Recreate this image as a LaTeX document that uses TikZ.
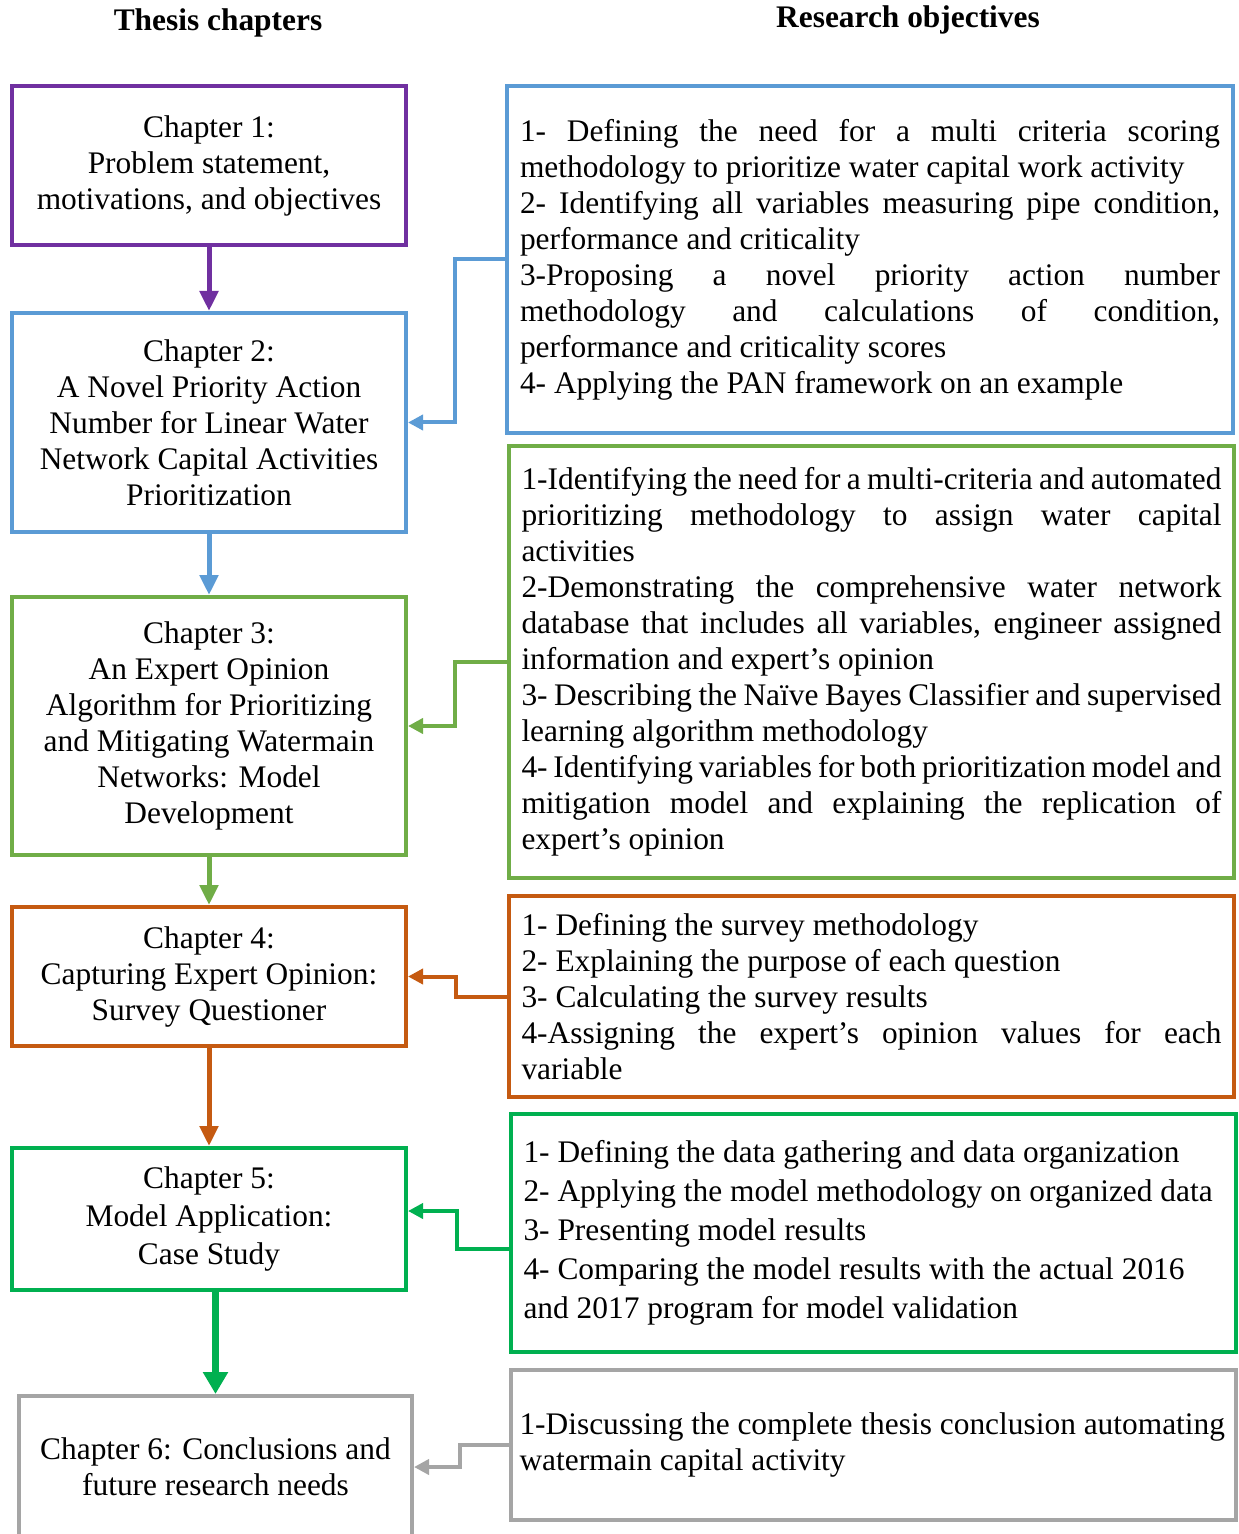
\documentclass[tikz,border=0pt]{standalone}
\usepackage{fontspec}
\setmainfont{Liberation Serif}
\usetikzlibrary{arrows.meta}
\definecolor{cpurple}{HTML}{7030A0}
\definecolor{cblue}{HTML}{5B9BD5}
\definecolor{clgreen}{HTML}{70AD47}
\definecolor{corange}{HTML}{C55A11}
\definecolor{cgreen}{HTML}{00B050}
\definecolor{cgray}{HTML}{A5A5A5}
% body text: tight Word-like spacing
\newcommand{\bodyfont}[1]{\fontsize{15.7}{#1}\selectfont\spaceskip=0.25em plus 1.2em minus 0.12em\relax}
\begin{document}
\begin{tikzpicture}[x=0.5pt,y=-0.5pt,
  box/.style={draw, line width=2pt, inner sep=0pt, rectangle},
  chap/.style={box, minimum width=197pt, align=center, font=\bodyfont{18}},
  obj/.style={box, minimum width=362.5pt, text width=350pt, align=justify, font=\bodyfont{18}},
  head/.style={font=\fontsize{15.7}{18}\selectfont\bfseries},
  down/.style={line width=2.5pt, -{Triangle[length=10pt,width=9pt]}},
  elbow/.style={line width=2pt, -{Triangle[length=7.5pt,width=7.5pt]}}]
\useasboundingbox (0,0) rectangle (1238,1534);
\clip (0,0) rectangle (1238,1534);

% column headings
\node[head] (h1) at (218,23) {Thesis chapters};
\node[head] (h2) at (908,20) {Research objectives};

% thesis chapters
\node[chap, draw=cpurple, minimum height=79.5pt] (ch1) at (209,165.5)
  {Chapter 1:\\Problem statement,\\motivations, and objectives};
\node[chap, draw=cblue, minimum height=109.5pt] (ch2) at (209,422.5)
  {Chapter 2:\\A Novel Priority Action\\Number for Linear Water\\Network Capital Activities\\Prioritization};
\node[chap, draw=clgreen, minimum height=129pt] (ch3) at (209,726)
  {Chapter 3:\\An Expert Opinion\\Algorithm for Prioritizing\\and Mitigating Watermain\\Networks: Model\\Development};
\node[chap, draw=corange, minimum height=69.5pt] (ch4) at (209,976.5)
  {Chapter 4:\\Capturing Expert Opinion:\\Survey Questioner};
\node[chap, draw=cgreen, minimum height=71pt, font=\bodyfont{19}] (ch5) at (209,1219)
  {Chapter 5:\\Model Application:\\Case Study};
\node[chap, draw=cgray, minimum width=196.5pt, minimum height=71pt] (ch6) at (215.5,1467)
  {Chapter 6: Conclusions and\\future research needs};

% research objectives
\node[obj, draw=cblue, minimum width=363pt, minimum height=173.5pt] (r1) at (870,259.5)
  {1- Defining the need for a multi criteria scoring\linebreak
   methodology to prioritize water capital work activity\\
   2- Identifying all variables measuring pipe condition,\linebreak
   performance and criticality\\
   3-Proposing a novel priority action number\linebreak
   methodology and calculations of condition,\linebreak
   performance and criticality scores\\
   4- Applying the PAN framework on an example};
\node[obj, draw=clgreen, minimum height=216pt] (r2) at (871.5,662)
  {1-Identifying the need for a multi-criteria and automated\linebreak
   prioritizing methodology to assign water capital\linebreak
   activities\\
   2-Demonstrating the comprehensive water network\linebreak
   database that includes all variables, engineer assigned\linebreak
   information and expert’s opinion\\
   3- Describing the Naïve Bayes Classifier and supervised\linebreak
   learning algorithm methodology\\
   4- Identifying variables for both prioritization model and\linebreak
   mitigation model and explaining the replication of\linebreak
   expert’s opinion};
\node[obj, draw=corange, minimum height=100.5pt] (r3) at (871.5,996.5)
  {1- Defining the survey methodology\\
   2- Explaining the purpose of each question\\
   3- Calculating the survey results\\
   4-Assigning the expert’s opinion values for each\linebreak
   variable};
\node[obj, draw=cgreen, minimum height=119pt, font=\bodyfont{19.5}] (r4) at (873.5,1233)
  {1- Defining the data gathering and data organization\\
   2- Applying the model methodology on organized data\\
   3- Presenting model results\\
   4- Comparing the model results with the actual 2016\\
   and 2017 program for model validation};
\node[obj, draw=cgray, minimum height=75pt, text width=354pt] (r5) at (873.5,1445)
  {1-Discussing the complete thesis conclusion automating\\
   watermain capital activity};

% chapter sequence
\draw[down, cpurple] (ch1.south) -- (ch2.north);
\draw[down, cblue] (ch2.south) -- (ch3.north);
\draw[down, clgreen] (ch3.south) -- (ch4.north);
\draw[down, corange] (ch4.south) -- (ch5.north);
\draw[down, cgreen, line width=3.5pt, -{Triangle[length=11pt,width=12pt]}]
  (ch6.north |- ch5.south) -- (ch6.north);

% objectives feeding each chapter
\draw[elbow, cblue] (r1.west) -- ++(-50,0) |- (ch2.east);
\draw[elbow, clgreen] (r2.west) -- ++(-52,0) |- (ch3.east);
\draw[elbow, corange] (r3.west) -- ++(-51,0) |- (ch4.east);
\draw[elbow, cgreen] ([yshift=-8pt]r4.west) -- ++(-52,0) |- ([yshift=4pt]ch5.east);
\draw[elbow, cgray] (r5.west) -- ++(-49,0) |- (ch6.east);
\end{tikzpicture}
\end{document}
